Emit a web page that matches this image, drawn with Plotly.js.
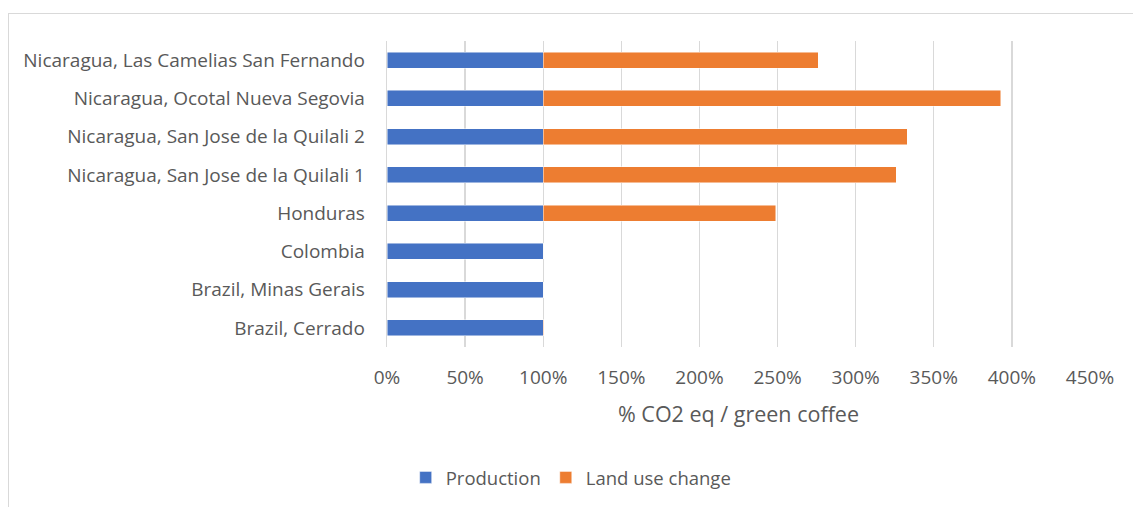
<!DOCTYPE html>
<html>
<head>
<meta charset="utf-8">
<script src="https://cdn.plot.ly/plotly-3.0.1.min.js"></script>
<style>
  html, body { margin: 0; padding: 0; background: #ffffff; }
  #wrap { position: relative; width: 1133px; height: 507px; overflow: hidden; }
  #chart { position: absolute; left: 0; top: 0; width: 1133px; height: 507px; }
  #frame { position: absolute; left: 8px; top: 13px; width: 1200px; height: 600px;
           border: 1.5px solid #d9d9d9; pointer-events: none; }
</style>
</head>
<body>
<div id="wrap">
  <div id="chart"></div>
  <div id="frame"></div>
</div>
<script>
// Categories, top to bottom
const categories = [
  "Nicaragua, Las Camelias San Fernando",
  "Nicaragua, Ocotal Nueva Segovia",
  "Nicaragua, San Jose de la Quilali 2",
  "Nicaragua, San Jose de la Quilali 1",
  "Honduras",
  "Colombia",
  "Brazil, Minas Gerais",
  "Brazil, Cerrado"
];
const production = [1.0, 1.0, 1.0, 1.0, 1.0, 1.0, 1.0, 1.0];
const landUseChange = [1.76, 2.93, 2.33, 2.26, 1.49, 0, 0, 0.004];
const seriesNames = ["Production", "Land use change"];
const xTitle = "% CO2 eq / green coffee";

const font = "'Open Sans', 'Noto Sans', sans-serif";
const gray = "#595959";

const traces = [
  {
    type: "bar", orientation: "h", name: seriesNames[0],
    y: categories, x: production,
    marker: { color: "#4472C4", line: { color: "rgba(255,255,255,0.6)", width: 0.8 } },
    hoverinfo: "x+y"
  },
  {
    type: "bar", orientation: "h", name: seriesNames[1],
    y: categories, x: landUseChange,
    marker: { color: "#ED7D31", line: { color: "rgba(255,255,255,0.6)", width: 0.8 } },
    hoverinfo: "x+y"
  }
];

const layout = {
  width: 1133, height: 507,
  paper_bgcolor: "rgba(0,0,0,0)", plot_bgcolor: "rgba(0,0,0,0)",
  margin: { l: 387, r: 43, t: 41, b: 159, pad: 0 },
  barmode: "stack",
  bargap: 0.58,
  font: { family: font, color: gray, size: 18 },
  showlegend: true,
  legend: {
    orientation: "h", x: 0.262, xanchor: "center", y: -0.423, yanchor: "middle",
    font: { family: font, color: gray, size: 18.5 },
    traceorder: "normal", itemwidth: 30
  },
  xaxis: {
    range: [0, 4.5], dtick: 0.5, tick0: 0, tickformat: ".0%",
    showgrid: true, gridcolor: "#d9d9d9", gridwidth: 1.3,
    zeroline: false, showline: false, ticks: "",
    ticklabelstandoff: 17,
    tickfont: { family: font, color: gray, size: 19 },
    title: { text: xTitle, font: { family: font, color: gray, size: 21.5 }, standoff: 17 },
    fixedrange: true
  },
  yaxis: {
    type: "category", autorange: "reversed",
    showgrid: false, zeroline: false,
    showline: true, linecolor: "#d9d9d9", linewidth: 1.3,
    ticks: "", ticklabelstandoff: 17,
    tickfont: { family: font, color: gray, size: 19 },
    fixedrange: true
  }
};

Plotly.newPlot("chart", traces, layout, { displayModeBar: false, staticPlot: true });
</script>
</body>
</html>
